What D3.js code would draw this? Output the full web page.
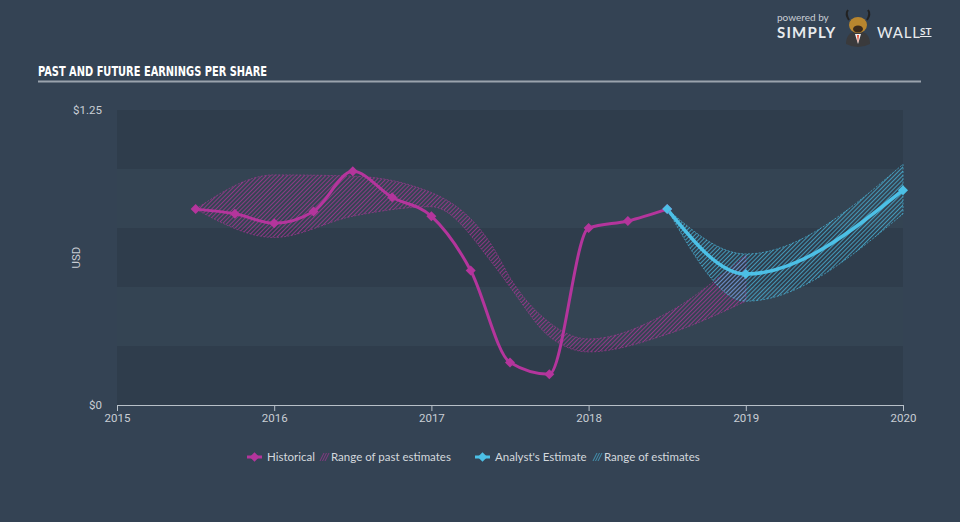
<!DOCTYPE html>
<html lang="en">
<head>
    <meta charset="UTF-8">
    <title>Past and Future Earnings per Share</title>
    <script src="https://cdn.jsdelivr.net/npm/d3@7"></script>
    <style>
        body { margin: 0; background: #344354; }
        svg { display: block; }
    </style>
</head>
<body>
<svg width="960" height="522"></svg>
<script>
    // values (years as decimals, EPS in USD)
    const histDates = [2015.5, 2015.75, 2016, 2016.25, 2016.5, 2016.75, 2017, 2017.25, 2017.5, 2017.75, 2018, 2018.25, 2018.5];
    const histEps   = [0.83, 0.81, 0.77, 0.82, 0.99, 0.88, 0.80, 0.57, 0.18, 0.13, 0.75, 0.78, 0.83];

    const pastRangeDates = [2015.5, 2016, 2016.5, 2017, 2017.4, 2017.5, 2017.75, 2018, 2018.5, 2019];
    const pastRangeLow   = [0.83, 0.71, 0.80, 0.84, 0.59, 0.50, 0.29, 0.225, 0.30, 0.44];
    const pastRangeHigh  = [0.83, 0.975, 0.97, 0.90, 0.66, 0.54, 0.35, 0.28, 0.39, 0.635];

    const estDates = [2018.5, 2019, 2020];
    const estEps   = [0.83, 0.555, 0.91];
    const estLow   = [0.83, 0.44, 0.81];
    const estHigh  = [0.83, 0.64, 1.02];

    const yearTicks = [2015, 2016, 2017, 2018, 2019, 2020];
    const yTicks = [0, 1.25];

    const pink = "#b4359c";
    const blue = "#4cc0e6";
    const textCol = "#c9ced4";

    const svg = d3.select("svg");
    const plotLeft = 117, plotRight = 903, plotTop = 110, plotBottom = 405;

    const x = d3.scaleLinear().domain([2015, 2020]).range([plotLeft, plotRight]);
    const y = d3.scaleLinear().domain([0, 1.25]).range([plotBottom, plotTop]);

    // hatch patterns
    const defs = svg.append("defs");
    function hatch(id, col) {
        defs.append("pattern")
            .attr("id", id)
            .attr("patternUnits", "userSpaceOnUse")
            .attr("width", 3).attr("height", 3)
            .attr("patternTransform", "rotate(45)")
            .append("rect")
            .attr("width", 1).attr("height", 3)
            .attr("fill", col).attr("opacity", 0.7);
    }
    hatch("hatchPink", pink);
    hatch("hatchBlue", blue);

    // background bands
    const bands = d3.range(0, 1.25, 0.25);
    svg.append("g").selectAll("rect")
        .data(bands)
        .join("rect")
        .attr("x", plotLeft)
        .attr("width", plotRight - plotLeft)
        .attr("y", d => y(d + 0.25))
        .attr("height", d => y(d) - y(d + 0.25))
        .attr("fill", (d, i) => i % 2 === 0 ? "#2f3d4c" : "#344453");

    // title
    svg.append("text")
        .attr("x", 38).attr("y", 76)
        .attr("fill", "#ffffff")
        .attr("font-family", "DejaVu Sans Condensed, DejaVu Sans")
        .attr("font-weight", "bold")
        .attr("font-size", 14)
        .attr("textLength", 229)
        .attr("lengthAdjust", "spacingAndGlyphs")
        .text("PAST AND FUTURE EARNINGS PER SHARE");
    svg.append("line")
        .attr("x1", 38).attr("x2", 921)
        .attr("y1", 81.5).attr("y2", 81.5)
        .attr("stroke", "#9aa3ad").attr("stroke-width", 2);

    // logo
    const logo = svg.append("g").attr("font-family", "Lato, Open Sans, sans-serif");
    logo.append("text").attr("x", 777).attr("y", 21).attr("fill", "#c9ced4")
        .attr("font-size", 10).text("powered by");
    logo.append("text").attr("x", 777).attr("y", 38).attr("fill", "#e8ebee")
        .attr("font-size", 15).attr("font-weight", "bold").attr("letter-spacing", 1.2).text("SIMPLY");
    logo.append("text").attr("x", 877).attr("y", 38).attr("fill", "#e8ebee")
        .attr("font-size", 15).attr("letter-spacing", 0.8).text("WALL");
    logo.append("text").attr("x", 920).attr("y", 35).attr("fill", "#e8ebee")
        .attr("font-size", 10).attr("font-weight", "bold").attr("text-decoration", "underline").text("ST");
    logo.append("path").attr("d", "M846,44 Q846,32 858,31 Q870,32 870,44 Q858,50 846,44 Z").attr("fill", "#3a3a3c");
    logo.append("path").attr("d", "M855,34 L858,44 L861,34 Z").attr("fill", "#f2f2f2");
    logo.append("path").attr("d", "M857,35 L858,43 L859,35 Z").attr("fill", "#e0462c");
    logo.append("ellipse").attr("cx", 858).attr("cy", 25).attr("rx", 9).attr("ry", 8).attr("fill", "#b8862f");
    logo.append("ellipse").attr("cx", 858).attr("cy", 29).attr("rx", 5).attr("ry", 3.5).attr("fill", "#3a2a1c");
    logo.append("path").attr("d", "M849,20 Q845,14 848,10 M867,20 Q871,14 868,10")
        .attr("stroke", "#222").attr("stroke-width", 2).attr("fill", "none");

    // axes
    const xAxis = svg.append("g")
        .attr("transform", `translate(0,${plotBottom})`)
        .call(d3.axisBottom(x).tickValues(yearTicks).tickFormat(d3.format("d")).tickSize(6).tickPadding(3));
    xAxis.select(".domain").attr("stroke", "#b8c0c8");
    xAxis.selectAll(".tick line").attr("stroke", "#b8c0c8");
    xAxis.selectAll("text").attr("fill", textCol).attr("font-size", 11.5)
        .attr("font-family", "Roboto, sans-serif");

    svg.append("g").selectAll("text")
        .data(yTicks)
        .join("text")
        .attr("x", 102).attr("y", d => y(d) + 4)
        .attr("text-anchor", "end")
        .attr("fill", textCol).attr("font-size", 11.5)
        .attr("font-family", "Roboto, sans-serif")
        .text(d => d === 0 ? "$0" : "$" + d3.format(".2f")(d));

    svg.append("text")
        .attr("transform", `translate(80,${(plotTop + plotBottom) / 2}) rotate(-90)`)
        .attr("text-anchor", "middle")
        .attr("fill", textCol).attr("font-size", 11.5)
        .attr("font-family", "Roboto, sans-serif")
        .text("USD");

    // ranges
    const pastRange = pastRangeDates.map((d, i) => ({ d, lo: pastRangeLow[i], hi: pastRangeHigh[i] }));
    const estRange = estDates.map((d, i) => ({ d, lo: estLow[i], hi: estHigh[i] }));
    const area = d3.area().curve(d3.curveMonotoneX)
        .x(p => x(p.d)).y0(p => y(p.lo)).y1(p => y(p.hi));

    svg.append("path").datum(pastRange)
        .attr("d", area)
        .attr("fill", "url(#hatchPink)")
        .attr("stroke", pink).attr("stroke-opacity", 0.7)
        .attr("stroke-width", 0.8).attr("stroke-dasharray", "2,1.5");

    svg.append("path").datum(estRange)
        .attr("d", area)
        .attr("fill", "url(#hatchBlue)")
        .attr("stroke", blue).attr("stroke-opacity", 0.8)
        .attr("stroke-width", 0.8).attr("stroke-dasharray", "2,1.5");

    // lines
    const line = d3.line().curve(d3.curveMonotoneX).x(p => x(p[0])).y(p => y(p[1]));
    const hist = histDates.map((d, i) => [d, histEps[i]]);
    const est = estDates.map((d, i) => [d, estEps[i]]);

    svg.append("path").datum(hist)
        .attr("d", line).attr("fill", "none")
        .attr("stroke", pink).attr("stroke-width", 3);
    svg.append("path").datum(est)
        .attr("d", line).attr("fill", "none")
        .attr("stroke", blue).attr("stroke-width", 3.5);

    // square markers turned 45 degrees
    const marker = d3.symbol().type(d3.symbolSquare).size(50);
    svg.append("g").selectAll("path")
        .data(hist)
        .join("path")
        .attr("transform", p => `translate(${x(p[0])},${y(p[1])}) rotate(45)`)
        .attr("d", marker).attr("fill", pink);
    svg.append("g").selectAll("path")
        .data(est)
        .join("path")
        .attr("transform", p => `translate(${x(p[0])},${y(p[1])}) rotate(45)`)
        .attr("d", marker).attr("fill", blue);

    // legend
    const legend = svg.append("g").attr("font-family", "Lato, Open Sans, sans-serif")
        .attr("font-size", 11.5).attr("fill", "#d3d8dd");
    function legendLine(x0, col) {
        legend.append("line").attr("x1", x0).attr("x2", x0 + 15)
            .attr("y1", 457).attr("y2", 457).attr("stroke", col).attr("stroke-width", 3);
        legend.append("path").attr("transform", `translate(${x0 + 7.5},457) rotate(45)`)
            .attr("d", d3.symbol().type(d3.symbolSquare).size(45)).attr("fill", col);
    }
    function legendHatch(x0, col) {
        for (let k = 0; k < 3; k++) {
            legend.append("line")
                .attr("x1", x0 + k * 2.5).attr("y1", 461)
                .attr("x2", x0 + 4 + k * 2.5).attr("y2", 453)
                .attr("stroke", col).attr("stroke-width", 0.8).attr("opacity", 0.8);
        }
    }
    legendLine(247, pink);
    legend.append("text").attr("x", 267).attr("y", 461).text("Historical");
    legendHatch(320, pink);
    legend.append("text").attr("x", 331).attr("y", 461).text("Range of past estimates");
    legendLine(475, blue);
    legend.append("text").attr("x", 495).attr("y", 461).text("Analyst's Estimate");
    legendHatch(593, blue);
    legend.append("text").attr("x", 604).attr("y", 461).text("Range of estimates");
</script>
</body>
</html>
